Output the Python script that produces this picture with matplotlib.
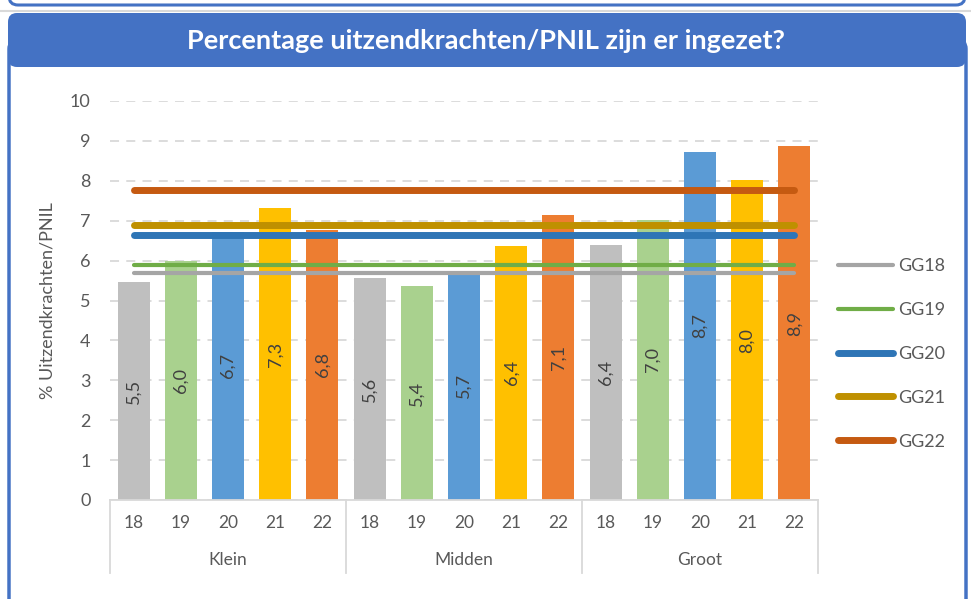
import numpy as np
import matplotlib.pyplot as plt
from matplotlib.patches import FancyBboxPatch
from matplotlib.lines import Line2D
from matplotlib.transforms import IdentityTransform, blended_transform_factory

plt.rcParams['font.family'] = ['Lato', 'DejaVu Sans']

# Gegevens
groepen = ['Klein', 'Midden', 'Groot']
jaren = ['18', '19', '20', '21', '22']
klein = [5.46, 5.99, 6.72, 7.32, 6.77]
midden = [5.56, 5.36, 5.74, 6.37, 7.14]
groot = [6.39, 7.02, 8.73, 8.01, 8.86]
gemiddelden = [5.68, 5.89, 6.63, 6.89, 7.78]
reeksen = ['GG18', 'GG19', 'GG20', 'GG21', 'GG22']

bar_kleuren = ['#BFBFBF', '#A9D18E', '#5B9BD5', '#FFC000', '#ED7D31']
lijn_kleuren = ['#A5A5A5', '#70AD47', '#2E75B6', '#BF9000', '#C55A11']
lijn_dikte = [3, 3, 5, 5, 5]
tekst = '#595959'
blauw = '#4472C4'

W, H = 971, 599
fig = plt.figure(figsize=(W / 100, H / 100), dpi=100)

# Kaders (in pixels, y vanaf boven)
def kader(x0, y0, x1, y1, z, **kw):
    p = FancyBboxPatch((x0, H - y1), x1 - x0, y1 - y0,
                       boxstyle='round,pad=0,rounding_size=9',
                       transform=IdentityTransform(), zorder=z, **kw)
    fig.add_artist(p)

kader(9, -60, 965, 5, -10, facecolor='white', edgecolor=blauw, lw=2.2)
fig.add_artist(Line2D([0, 1], [1 - 11 / H, 1 - 11 / H], color='#D9D9D9', lw=1.5, zorder=-10))
kader(9, 40, 966, 700, -9, facecolor='white', edgecolor=blauw, lw=2.5)
kader(8, 13, 966, 67, -8, facecolor=blauw, edgecolor='none')
fig.text(0.5, 1 - 41 / H, 'Percentage uitzendkrachten/PNIL zijn er ingezet?',
         color='white', fontsize=19.5, fontweight='bold', ha='center', va='center')

ax = fig.add_axes([110 / W, 1 - 500 / H, 708 / W, 399 / H])
ax.set_facecolor('none')

waarden = klein + midden + groot
x = np.arange(len(waarden))
kleuren = bar_kleuren * len(groepen)
bars = ax.bar(x, waarden, width=0.68, color=kleuren, zorder=2)
ax.bar_label(bars, labels=[f'{v:.1f}'.replace('.', ',') for v in waarden],
             label_type='center', rotation=90, fontsize=13, color='#404040', zorder=4)

for naam, v, c, lw in zip(reeksen, gemiddelden, lijn_kleuren, lijn_dikte):
    ax.plot([x[0], x[-1]], [v, v], color=c, lw=lw, solid_capstyle='round',
            label=naam, zorder=3)

ax.set_xlim(-0.5, len(waarden) - 0.5)
ax.set_ylim(0, 10)
ax.set_yticks(range(0, 11))
ax.yaxis.grid(True, color='#D9D9D9', lw=1.3, linestyle=(0, (5, 4)), zorder=0)
ax.set_axisbelow(True)
for s in ['top', 'right', 'left']:
    ax.spines[s].set_visible(False)
ax.spines['bottom'].set_color('#D9D9D9')
ax.spines['bottom'].set_linewidth(1.3)
ax.tick_params(axis='y', length=0, pad=14, labelsize=13, labelcolor=tekst)
ax.set_xticks(x)
ax.set_xticklabels(jaren * len(groepen))
ax.tick_params(axis='x', length=0, pad=11, labelsize=12.5, labelcolor=tekst)
ax.set_ylabel('% Uitzendkrachten/PNIL', fontsize=13, color=tekst, labelpad=10)

# Groepslabels en scheidingslijnen
tr = blended_transform_factory(ax.transData, ax.transAxes)
for i in range(len(groepen) + 1):
    xs = i * len(jaren) - 0.5
    ax.plot([xs, xs], [0, -73 / 399], color='#D9D9D9', lw=1.3, transform=tr, clip_on=False)
for i, g in enumerate(groepen):
    ax.text(i * len(jaren) + 2, -60 / 399, g, transform=tr, ha='center', va='center',
            fontsize=12.5, color=tekst)

ax.legend(loc='center left', bbox_to_anchor=(1.028, 0.366), frameon=False, borderpad=0,
          borderaxespad=0, handlelength=3.05, handletextpad=0.28, labelspacing=1.54,
          fontsize=13, labelcolor=tekst)

fig.savefig('out.png', dpi=100)
